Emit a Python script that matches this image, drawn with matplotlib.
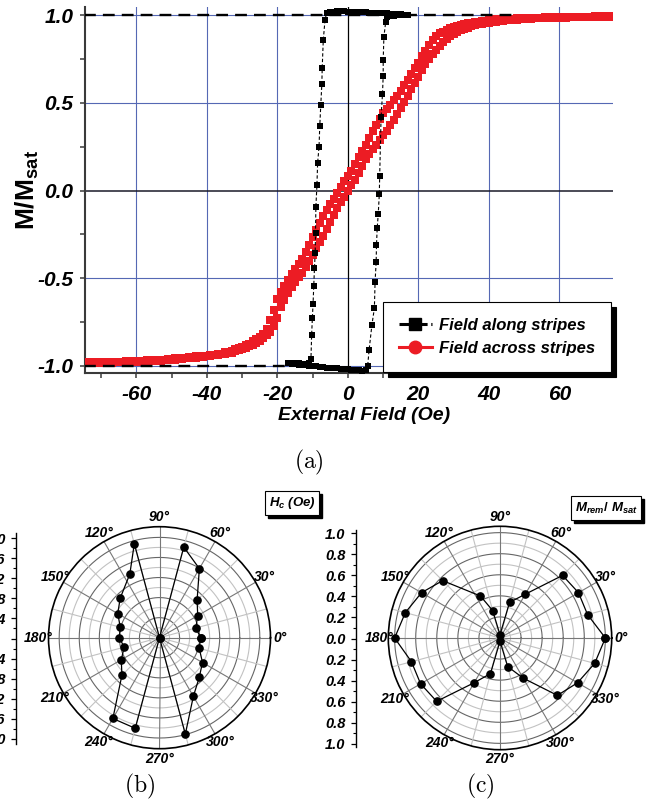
import numpy as np
import matplotlib
matplotlib.use("Agg")
import matplotlib.pyplot as plt
from matplotlib.lines import Line2D
from matplotlib.patches import Rectangle

plt.rcParams['font.family'] = ['Liberation Sans', 'DejaVu Sans']
plt.rcParams['axes.unicode_minus'] = False
plt.rcParams['mathtext.fontset'] = 'custom'
plt.rcParams['mathtext.rm'] = 'Liberation Sans:bold'
plt.rcParams['mathtext.bf'] = 'Liberation Sans:bold'
plt.rcParams['mathtext.it'] = 'Liberation Sans:bold:italic'

W, H = 657, 806

###################
# (a) hysteresis  #
###################
# field sweep points (Oe) for the "across stripes" loop
across_x = np.concatenate([np.arange(-75, -32, 2), np.arange(-32, 37, 1), np.arange(38, 76, 2)])
# descending branch (left / upper curve)
across_down = [-0.980, -0.980, -0.979, -0.978, -0.977, -0.976, -0.975, -0.973, -0.971, -0.969, -0.967,
               -0.965, -0.962, -0.958, -0.955, -0.951, -0.947, -0.942, -0.937, -0.931, -0.924, -0.914,
               -0.906, -0.899, -0.892, -0.884, -0.873, -0.860, -0.848, -0.834, -0.818, -0.790, -0.740,
               -0.680, -0.620, -0.580, -0.545, -0.510, -0.478, -0.450, -0.422, -0.392, -0.350, -0.310,
               -0.268, -0.228, -0.188, -0.148, -0.112, -0.078, -0.046, -0.013, 0.020, 0.052, 0.083,
               0.113, 0.152, 0.190, 0.228, 0.262, 0.300, 0.340, 0.375, 0.410, 0.440, 0.466, 0.490,
               0.515, 0.540, 0.570, 0.600, 0.632, 0.665, 0.698, 0.730, 0.765, 0.797, 0.828, 0.858,
               0.880, 0.897, 0.907, 0.915, 0.925, 0.933, 0.940, 0.945, 0.950, 0.954, 0.958, 0.962,
               0.967, 0.972, 0.976, 0.979, 0.981, 0.983, 0.985, 0.986, 0.987, 0.988, 0.989, 0.990,
               0.990, 0.991, 0.992, 0.992, 0.993, 0.993, 0.994]
# ascending branch (right / lower curve)
across_up = [-0.985, -0.985, -0.984, -0.983, -0.982, -0.981, -0.980, -0.979, -0.977, -0.975, -0.973,
             -0.971, -0.968, -0.965, -0.962, -0.958, -0.954, -0.949, -0.944, -0.938, -0.932, -0.925,
             -0.918, -0.912, -0.905, -0.898, -0.890, -0.880, -0.869, -0.857, -0.843, -0.826, -0.805,
             -0.775, -0.725, -0.665, -0.625, -0.585, -0.552, -0.522, -0.496, -0.468, -0.438, -0.405,
             -0.367, -0.330, -0.295, -0.260, -0.222, -0.180, -0.140, -0.100, -0.065, -0.035, -0.002,
             0.030, 0.062, 0.100, 0.140, 0.178, 0.210, 0.238, 0.262, 0.288, 0.315, 0.342, 0.375,
             0.405, 0.438, 0.470, 0.505, 0.540, 0.578, 0.612, 0.648, 0.685, 0.720, 0.748, 0.778,
             0.800, 0.825, 0.848, 0.865, 0.880, 0.893, 0.903, 0.913, 0.921, 0.929, 0.936, 0.942,
             0.950, 0.956, 0.961, 0.966, 0.970, 0.974, 0.977, 0.980, 0.982, 0.984, 0.985, 0.986,
             0.987, 0.988, 0.989, 0.990, 0.991, 0.991, 0.992]

# "along stripes" square loop
along_down_x = [17, 16, 15, 14, 13, 12, 11, 10, 9, 8, 7, 6, 5, 4, 3, 2, 1, 0, -1, -2, -3, -4, -5, -6,
                -6.5, -7.0, -7.3, -7.4, -7.7, -8.0, -8.2, -8.6, -8.8, -9.1, -9.2, -9.3, -9.5, -9.7,
                -9.9, -10.1, -10.3, -10.5, -11, -12, -13, -14, -15, -16, -17]
along_down_y = [1.003, 1.004, 1.006, 1.007, 1.008, 1.009, 1.010, 1.011, 1.012, 1.013, 1.014, 1.015,
                1.016, 1.017, 1.018, 1.019, 1.020, 1.021, 1.022, 1.022, 1.022, 1.021, 1.020, 1.015,
                0.975, 0.857, 0.700, 0.610, 0.490, 0.366, 0.250, 0.158, 0.030, -0.095, -0.244, -0.358,
                -0.443, -0.545, -0.647, -0.730, -0.825, -0.964, -0.985, -0.988, -0.988, -0.987, -0.987,
                -0.986, -0.985]
along_up_x = [-17, -16, -15, -14, -13, -12, -11, -10, -9, -8, -7, -6, -5, -4, -3, -2, -1, 0, 1, 2, 3,
              4, 5, 5.6, 6.0, 6.8, 7.5, 7.7, 8.0, 8.1, 8.3, 8.6, 8.9, 9.0, 9.4, 9.8, 10.0, 10.0, 10.2,
              10.7, 11, 12, 13, 14, 15, 16, 17]
along_up_y = [-0.985, -0.990, -0.992, -0.994, -0.996, -0.998, -1.000, -1.002, -1.004, -1.006, -1.008,
              -1.010, -1.012, -1.013, -1.014, -1.016, -1.018, -1.020, -1.022, -1.024, -1.026, -1.028,
              -1.025, -1.000, -0.910, -0.767, -0.672, -0.520, -0.410, -0.310, -0.215, -0.133, -0.020,
              0.080, 0.420, 0.550, 0.655, 0.743, 0.877, 0.960, 0.990, 0.997, 0.998, 0.999, 1.000,
              1.001, 1.002]
# dashed saturation guides
sat_top_x, sat_top_y = [-75, 47], [1.0, 1.0]
sat_bot_x, sat_bot_y = [-75, -17], [-1.0, -1.0]

legend_labels = ['Field along stripes', 'Field across stripes']
x_ticks = [-60, -40, -20, 0, 20, 40, 60]
y_ticks = [-1.0, -0.5, 0.0, 0.5, 1.0]

###################
# (b), (c) polar  #
###################
angles = [0, 15, 30, 45, 60, 75, 90, 105, 115, 135, 150, 165,
          180, 195, 210, 225, 240, 255, 270, 285, 300, 315, 330, 345]
hc_values = [0.82, 0.75, 0.88, 1.06, 1.59, 1.87, 0.0, 1.94, 1.40, 1.11, 0.96, 0.81,
             0.80, 0.73, 0.88, 1.06, 1.86, 1.87, 0.0, 1.99, 1.35, 1.12, 0.99, 0.82]
mrem_values = [1.00, 0.86, 0.86, 0.84, 0.48, 0.35, 0.03, 0.27, 0.44, 0.77, 0.86, 0.93,
               1.00, 0.87, 0.87, 0.85, 0.49, 0.35, 0.03, 0.28, 0.44, 0.77, 0.85, 0.93]
hc_scale_ticks = [-2.0, -1.6, -1.2, -0.8, -0.4, 0.0, 0.4, 0.8, 1.2, 1.6, 2.0]
hc_scale_labels = ['2.0', '1.6', '1.2', '0.8', '0.4', '', '0.4', '0.8', '1.2', '1.6', '2.0']
mrem_scale_ticks = [-1.0, -0.8, -0.6, -0.4, -0.2, 0.0, 0.2, 0.4, 0.6, 0.8, 1.0]
mrem_scale_labels = ['1.0', '0.8', '0.6', '0.4', '0.2', '0.0', '0.2', '0.4', '0.6', '0.8', '1.0']

blue = '#5568b4'
red = '#ec1c24'


def box(x0, y0, x1, y1):
    # pixel box (top-left origin) -> figure fraction
    return [x0 / W, 1 - y1 / H, (x1 - x0) / W, (y1 - y0) / H]


fig = plt.figure(figsize=(W / 100, H / 100), dpi=100)

ax = fig.add_axes(box(85, 7, 613, 373.3))
ax.set_xlim(-74.6, 75.2)
ax.set_ylim(-1.043, 1.047)
for v in [-60, -40, -20, 20, 40, 60]:
    ax.axvline(v, color=blue, lw=0.8, zorder=1)
for v in [-1.0, -0.5, 0.5, 1.0]:
    ax.axhline(v, color=blue, lw=0.8, zorder=1)
ax.axvline(0, color='k', lw=0.9, zorder=1.5)
ax.axhline(0, color='#1a1a28', lw=1.1, zorder=1.5)

ax.plot(across_x, across_down, 's', color=red, ms=5.1, mew=0, zorder=3)
ax.plot(across_x, across_up, 's', color=red, ms=5.1, mew=0, zorder=3)
ax.plot(sat_top_x, sat_top_y, color='k', lw=1.7, ls=(0, (5, 3)), zorder=4)
ax.plot(sat_bot_x, sat_bot_y, color='k', lw=1.7, ls=(0, (5, 3)), zorder=4)
ax.plot(along_down_x, along_down_y, color='k', lw=0.8, ls=(0, (3, 2)), marker='s', ms=4.5, mew=0, zorder=5)
ax.plot(along_up_x, along_up_y, color='k', lw=0.8, ls=(0, (3, 2)), marker='s', ms=4.5, mew=0, zorder=5)

for s in ['top', 'right']:
    ax.spines[s].set_visible(False)
for s in ['left', 'bottom']:
    ax.spines[s].set_linewidth(1.5)
    ax.spines[s].set_color('#3a3a3a')
tick_font = dict(fontsize=15, fontweight='bold', fontstyle='italic')
ax.set_xticks(x_ticks, [str(t) for t in x_ticks], **tick_font)
ax.set_xticks(np.arange(-70, 80, 20), minor=True)
ax.set_yticks(y_ticks, ['%.1f' % t for t in y_ticks], **tick_font)
ax.set_yticks([-0.75, -0.25, 0.25, 0.75], minor=True)
ax.tick_params(which='both', direction='out', length=3.5, width=1.1, color='#3a3a3a')
ax.tick_params(axis='x', pad=5)
ax.tick_params(axis='y', pad=5)

handles = [Line2D([], [], color='k', lw=2.2, ls=(0, (4, 1.2)), marker='s', ms=8),
           Line2D([], [], color=red, lw=2.2, marker='o', ms=9)]
leg = ax.legend(handles, legend_labels, loc='lower left', bbox_to_anchor=(0.564, 0.004),
                borderaxespad=0, prop={'weight': 'bold', 'style': 'italic', 'size': 12},
                fancybox=False, edgecolor='k', framealpha=1, handlelength=2.0,
                handletextpad=0.4, labelspacing=0.5, borderpad=0.95,
                shadow={'ox': 4, 'oy': -4, 'color': 'k', 'alpha': 1})
leg.get_frame().set_linewidth(0.8)
leg.set_zorder(10)

fig.text(27 / W, 1 - 190 / H, r'$\mathbf{M/M_{sat}}$', rotation=90, ha='center', va='center', fontsize=19)
fig.text(364 / W, 1 - 416 / H, 'External Field (Oe)', ha='center', va='center',
         fontsize=14, fontweight='bold', fontstyle='italic')
fig.text(309 / W, 1 - 462 / H, r'$\mathrm{(a)}$', math_fontfamily='cm', ha='center', va='center', fontsize=17)


def polar_panel(cx, cy, rad, rmax, step, values, lab_r):
    pax = fig.add_axes(box(cx - rad, cy - rad, cx + rad, cy + rad), projection='polar')
    pax.set_ylim(0, rmax)
    pax.grid(False)
    pax.set_xticks([])
    pax.set_yticks([])
    pax.spines['polar'].set_linewidth(1.2)
    th = np.linspace(0, 2 * np.pi, 361)
    for i in range(1, 11):
        col = '#666666' if i % 2 == 0 else '#c2c2c2'
        pax.plot(th, np.full_like(th, i * step), color=col, lw=0.8, zorder=1)
    for a in range(0, 360, 15):
        col = '#777777' if a % 30 == 0 else '#c2c2c2'
        pax.plot([np.deg2rad(a)] * 2, [0, rmax], color=col, lw=0.8, zorder=1)
    for a in range(0, 360, 30):
        pax.text(np.deg2rad(a), lab_r, '%d°' % a, ha='center', va='center',
                 fontsize=10, fontweight='bold', fontstyle='italic')
    t = np.deg2rad(angles + [angles[0]])
    v = values + [values[0]]
    pax.plot(t, v, color='k', lw=0.9, marker='o', ms=5.2, zorder=5)
    return pax


def scale_bar(x, y0, y1, lim, ticks, labels, minor):
    sax = fig.add_axes(box(x, y0, x + 1, y1))
    sax.set_ylim(-lim, lim)
    sax.patch.set_visible(False)
    for s in ['top', 'right', 'bottom']:
        sax.spines[s].set_visible(False)
    sax.spines['left'].set_linewidth(1.0)
    sax.set_xticks([])
    sax.set_yticks(ticks, labels, fontsize=10.5, fontweight='bold', fontstyle='italic')
    sax.set_yticks(minor, minor=True)
    sax.tick_params(axis='y', which='major', direction='out', length=3.5, width=0.9, pad=4)
    sax.tick_params(axis='y', which='minor', direction='out', length=2, width=0.8)


boxed = []


def label_box(xc, yc, s, **kw):
    t = fig.text(xc / W, 1 - yc / H, s, ha='center', va='center', color='k', zorder=4,
                 bbox=dict(boxstyle='square,pad=0.3', fc='w', ec='k', lw=0.8), **kw)
    boxed.append(t)


# (b) coercive field
polar_panel(159.5, 637.7, 111, 2.213, 0.2, hc_values, 2.41)
scale_bar(16, 533, 744, 2.104, hc_scale_ticks, hc_scale_labels, np.arange(-1.8, 2.0, 0.4))
label_box(292, 503, r'$H_c$ (Oe)', fontsize=9.5, fontweight='bold', fontstyle='italic')
fig.text(140 / W, 1 - 786 / H, r'$\mathrm{(b)}$', math_fontfamily='cm', ha='center', va='center', fontsize=17)

# (c) remanence
polar_panel(500, 638, 111.7, 1.06, 0.1, mrem_values, 1.15)
scale_bar(356, 530, 747, 1.03, mrem_scale_ticks, mrem_scale_labels, np.arange(-0.9, 1.0, 0.2))
label_box(606, 508, r'$M_{rem}/\ M_{sat}$', fontsize=9.5)
fig.text(480 / W, 1 - 786 / H, r'$\mathrm{(c)}$', math_fontfamily='cm', ha='center', va='center', fontsize=17)

# black drop shadows behind the two title boxes
fig.canvas.draw()
for t in boxed:
    bb = t.get_bbox_patch().get_window_extent()
    fig.add_artist(Rectangle(((bb.x0 + 3) / W, (bb.y0 - 3) / H), bb.width / W, bb.height / H,
                             transform=fig.transFigure, fc='k', ec='k', zorder=3))

fig.savefig('out.png', dpi=100)
